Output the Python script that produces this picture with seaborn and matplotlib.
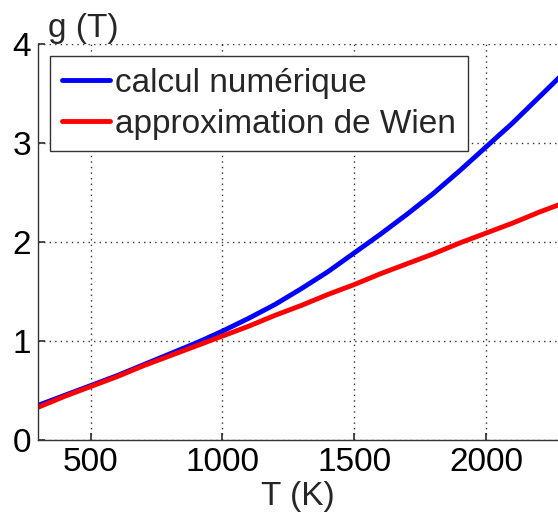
import seaborn as sns
import matplotlib.pyplot as plt
import pandas as pd

# values
temps = [300, 400, 500, 600, 700, 800, 900, 1000, 1100, 1200, 1300,
         1400, 1500, 1600, 1700, 1800, 1900, 2000, 2100, 2200, 2300]
g_numeric = [0.35, 0.45, 0.55, 0.65, 0.76, 0.87, 0.98, 1.10, 1.23, 1.37, 1.53,
             1.70, 1.89, 2.08, 2.28, 2.49, 2.72, 2.96, 3.20, 3.46, 3.72]
g_wien = [0.33, 0.44, 0.54, 0.64, 0.75, 0.85, 0.95, 1.05, 1.15, 1.26, 1.36,
          1.47, 1.57, 1.68, 1.78, 1.88, 1.99, 2.09, 2.19, 2.30, 2.40]
labels = ['calcul numérique', 'approximation de Wien']

df = pd.DataFrame({
    'T': temps * 2,
    'g': g_numeric + g_wien,
    'serie': [labels[0]] * len(temps) + [labels[1]] * len(temps),
})

sns.set_theme(style='ticks')
plt.rcParams['font.family'] = ['Liberation Sans', 'DejaVu Sans']

fig = plt.figure(figsize=(5.58, 5.12), dpi=100)
ax = fig.add_axes([38 / 558, 72 / 512, 1 - 38 / 558, 396 / 512])

sns.lineplot(data=df, x='T', y='g', hue='serie', palette=['#0000ff', '#ff0000'],
             linewidth=3.5, ax=ax)

ax.set_xlim(300, 2273)
ax.set_ylim(0, 4)
ax.set_xticks([500, 1000, 1500, 2000])
ax.set_yticks([0, 1, 2, 3, 4])
ax.grid(True, linestyle=(0, (1, 3)), color='#333333', linewidth=1)
ax.tick_params(direction='in', labelsize=24, length=5, color='#333333',
               labelcolor='black', pad=5)
for side in ['top', 'right']:
    ax.spines[side].set_visible(False)
for side in ['left', 'bottom']:
    ax.spines[side].set_color('#333333')
    ax.spines[side].set_linewidth(1)

ax.set_xlabel('T (K)', fontsize=24, labelpad=2)
ax.set_ylabel('')
ax.text(0.019, 1.0, 'g (T)', transform=ax.transAxes, fontsize=24,
        ha='left', va='bottom')

leg = ax.legend(loc='upper left', bbox_to_anchor=(0.023, 0.97), fontsize=24,
                frameon=True, fancybox=False, edgecolor='#333333',
                handlelength=1.45, handletextpad=0.15, borderpad=0.35,
                labelspacing=0.3, borderaxespad=0)
leg.get_frame().set_linewidth(1)
leg.get_frame().set_alpha(1)

fig.savefig('out.png', dpi=100)
